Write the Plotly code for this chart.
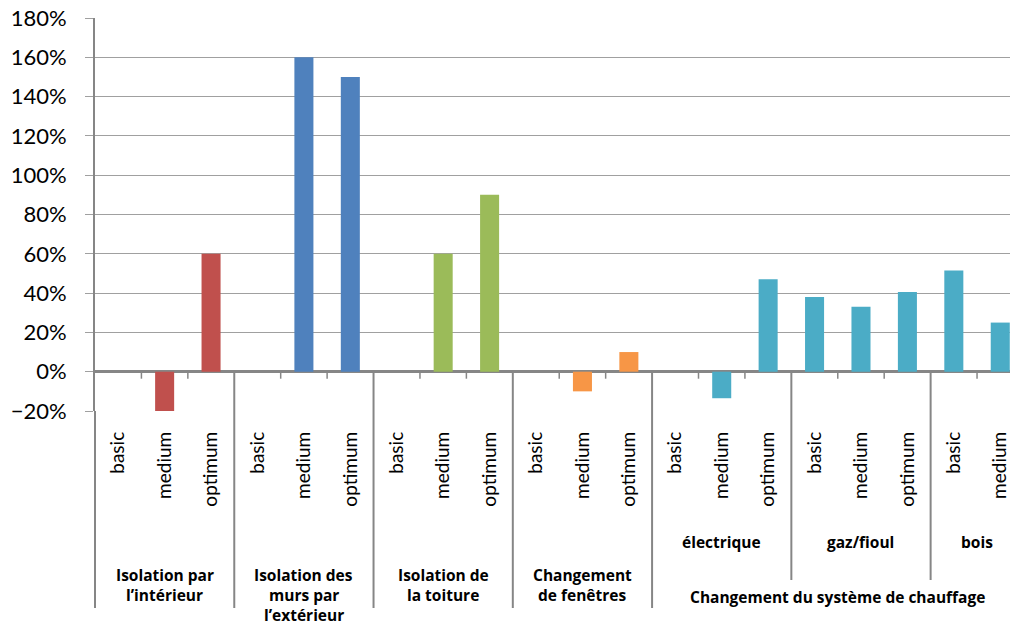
import plotly.graph_objects as go

# ---- data -------------------------------------------------------------
levels = ["basic", "medium", "optimum"]

groups = [
    ["Isolation par", "l’intérieur"],
    ["Isolation des", "murs par", "l’extérieur"],
    ["Isolation de", "la toiture"],
    ["Changement", "de fenêtres"],
    ["Changement du système de chauffage"],
]
group_sizes = [3, 3, 3, 3, 8]

heating_sub = ["électrique", "gaz/fioul", "bois"]
heating_sub_sizes = [3, 3, 2]

tick_labels = levels * 6 + ["basic", "medium"]

val_interieur = [0.0, -0.20, 0.60]
val_murs = [0.0, 1.60, 1.50]
val_toiture = [0.0, 0.60, 0.90]
val_fenetres = [0.0, -0.10, 0.10]
val_chauffage = [0.0, -0.135, 0.47, 0.38, 0.33, 0.405, 0.515, 0.25]

series = [val_interieur, val_murs, val_toiture, val_fenetres, val_chauffage]
colors = ["#C0504D", "#4F81BD", "#9BBB59", "#F79646", "#4BACC6"]

# ---- layout constants ---------------------------------------------------
W, H = 1010, 626
M_L, M_R, M_T, M_B = 95, 0, 18, 215
PLOT_H = H - M_T - M_B
Y_MIN, Y_MAX = -0.2, 1.8
X_LO, X_HI = -0.5, 19.21
AXIS_COL = "#868686"
GRID_COL = "#A0A0A0"
FONT = "Lato"
BOLD_FONT = "Open Sans"
BOLD_SIZE = 15.5
LINE_STEP = 20.3


def xp(i):
    return (i - X_LO) / (X_HI - X_LO)


def yp(py):
    # pixel row (from top of page) -> paper y
    return (H - M_B - py) / PLOT_H


y_zero = (0 - Y_MIN) / (Y_MAX - Y_MIN)

fig = go.Figure()

start = 0
for vals, col in zip(series, colors):
    xs = list(range(start, start + len(vals)))
    fig.add_trace(go.Bar(x=xs, y=vals, width=0.41, marker=dict(color=col, line=dict(width=0)),
                         showlegend=False, hoverinfo="skip"))
    start += len(vals)

shapes = []
line_style = dict(color=AXIS_COL, width=2)

# y axis line carried down through the category area
shapes.append(dict(type="line", xref="paper", yref="paper", x0=0, x1=0,
                   y0=0, y1=yp(608), line=line_style))

# top-level group separators
pos = -0.5
bounds_top = []
for n in group_sizes[:-1]:
    pos += n
    bounds_top.append(pos)
for b in bounds_top:
    shapes.append(dict(type="line", xref="paper", yref="paper", x0=xp(b), x1=xp(b),
                       y0=y_zero, y1=yp(608), line=line_style))

# heating sub-group separators
pos = sum(group_sizes[:-1]) - 0.5
for n in heating_sub_sizes[:-1]:
    pos += n
    shapes.append(dict(type="line", xref="paper", yref="paper", x0=xp(pos), x1=xp(pos),
                       y0=y_zero, y1=yp(580), line=line_style))

# short ticks between categories inside a group
sub_bounds = set(bounds_top)
pos = sum(group_sizes[:-1]) - 0.5
for n in heating_sub_sizes[:-1]:
    pos += n
    sub_bounds.add(pos)
for k in range(len(tick_labels) - 1):
    b = k + 0.5
    if b in sub_bounds:
        continue
    shapes.append(dict(type="line", xref="paper", yref="paper", x0=xp(b), x1=xp(b),
                       y0=y_zero, y1=y_zero - 7 / PLOT_H, line=dict(color=AXIS_COL, width=1.5)))

annotations = []
bold_font = dict(family=BOLD_FONT, size=BOLD_SIZE, color="#000000")


def label(text, x, py):
    annotations.append(dict(text="<b>" + text + "</b>", x=x, y=yp(py),
                            xref="paper", yref="paper", xanchor="center", yanchor="middle",
                            showarrow=False, font=bold_font, borderpad=0))


# group labels, one annotation per line
pos = 0
for lines, n in zip(groups, group_sizes):
    center = xp(pos + (n - 1) / 2)
    if len(lines) == 1:
        label(lines[0], center, 597)
    else:
        for j, txt in enumerate(lines):
            label(txt, center, 574.5 + LINE_STEP * j)
    pos += n

# heating sub-group labels
pos = sum(group_sizes[:-1])
for name, n in zip(heating_sub, heating_sub_sizes):
    label(name, xp(pos + (n - 1) / 2), 542)
    pos += n

fig.update_layout(
    width=W, height=H,
    margin=dict(l=M_L, r=M_R, t=M_T, b=M_B, pad=0),
    paper_bgcolor="white", plot_bgcolor="white",
    shapes=shapes, annotations=annotations,
    barmode="overlay",
    xaxis=dict(range=[X_LO, X_HI], tickvals=list(range(len(tick_labels))), ticktext=tick_labels,
               tickangle=-90, showgrid=False, zeroline=False, showline=False, ticks="",
               ticklabelstandoff=16, ticklabeloverflow="allow",
               tickfont=dict(family=FONT, size=19, color="#000000")),
    yaxis=dict(range=[Y_MIN, Y_MAX], dtick=0.2, tick0=0, tickformat=".0%",
               showgrid=True, gridcolor=GRID_COL, gridwidth=1.3,
               ticks="outside", ticklen=8, tickcolor=GRID_COL, tickwidth=1.3,
               showline=True, linecolor=AXIS_COL, linewidth=2,
               zeroline=True, zerolinecolor=AXIS_COL, zerolinewidth=2.5,
               ticklabelstandoff=14, tickfont=dict(family=FONT, size=22, color="#000000")),
)

fig.write_html("out.html")
